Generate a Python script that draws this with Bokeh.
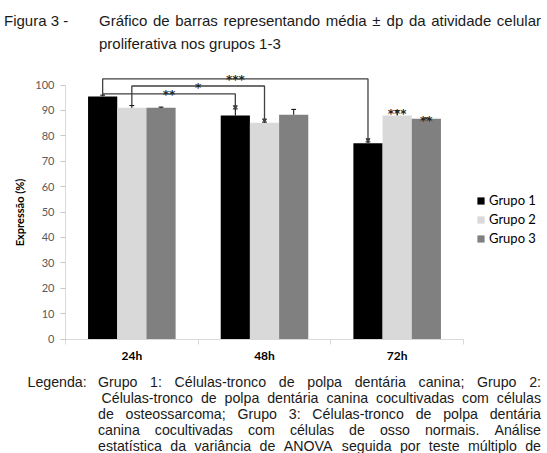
import numpy as np
from bokeh.plotting import figure
from bokeh.models import Range1d, FixedTicker, Legend, LegendItem
from bokeh.embed import file_html
from bokeh.resources import INLINE
from bokeh.core.properties import value

# ---------------- data ----------------
categories = ["24h", "48h", "72h"]
groups = ["Grupo 1", "Grupo 2", "Grupo 3"]
grupo1 = [95.5, 88.0, 77.1]
grupo2 = [91.0, 85.1, 88.0]
grupo3 = [91.0, 88.3, 86.7]
dp1 = [0.5, 2.6, 0.5]
dp2 = [0.9, 0.3, 1.9]
dp3 = [0.3, 2.1, 0.3]
y_ticks = [0, 10, 20, 30, 40, 50, 60, 70, 80, 90, 100]

# comparison brackets (category index, group index)
br_from_cat = [0, 0, 0]
br_from_grp = [0, 1, 0]
br_to_cat = [2, 1, 1]
br_to_grp = [0, 1, 0]
br_level = [102.4, 99.6, 96.5]
br_text = ["***", "*", "**"]

# significance marks over single bars
sig_cat = [2, 2]
sig_grp = [1, 2]
sig_text = ["***", "**"]

title_label = "Figura 3 -"
title_lines = ["Gráfico de barras representando média ± dp da atividade celular",
               "proliferativa nos grupos 1-3"]
caption_label = "Legenda:"
caption_lines = ["Grupo 1: Células-tronco de polpa dentária canina; Grupo 2:",
                 "Células-tronco de polpa dentária canina cocultivadas com células",
                 "de osteossarcoma; Grupo 3: Células-tronco de polpa dentária",
                 "canina cocultivadas com células de osso normais. Análise",
                 "estatística da variância de ANOVA seguida por teste múltiplo de"]

# ---------------- layout / style ----------------
W, H = 547, 453
AX_LEFT = 65.0          # pixel x of the value axis
AX_BOTTOM = 338.5       # pixel y of the category axis
PX_PER_CAT = 132.67
PX_PER_UNIT = 2.54
colors = ["#000000", "#d9d9d9", "#808080"]
bar_w = 0.22
offsets = [-0.22, 0.0, 0.22]
FONT = "Lato"
STAR_FONT = "DejaVu Sans"
TFONT = "Liberation Sans"

vals = [grupo1, grupo2, grupo3]
errs = [dp1, dp2, dp3]

x_rng = Range1d(-AX_LEFT / PX_PER_CAT, (W - AX_LEFT) / PX_PER_CAT)
y_rng = Range1d(-(H - AX_BOTTOM) / PX_PER_UNIT, AX_BOTTOM / PX_PER_UNIT)

p = figure(width=W, height=H, x_range=x_rng, y_range=y_rng,
           output_backend="svg", toolbar_location=None, min_border=0)
p.outline_line_color = None
p.xgrid.grid_line_color = None
p.ygrid.grid_line_color = None
p.background_fill_color = "white"
p.border_fill_color = "white"

def dx(px):
    return (px - AX_LEFT) / PX_PER_CAT

def dy(py):
    return (AX_BOTTOM - py) / PX_PER_UNIT

def xpos(c, g):
    return c + 0.5 + offsets[g]

legend_items = []
for g in range(3):
    xs = [xpos(c, g) for c in range(len(categories))]
    r = p.vbar(x=xs, top=vals[g], width=bar_w, fill_color=colors[g], line_color=None)
    legend_items.append(LegendItem(label=groups[g], renderers=[r]))
    tops = [v + e for v, e in zip(vals[g], errs[g])]
    p.segment(x0=xs, y0=vals[g], x1=xs, y1=tops, line_color="#000000", line_width=1)
    p.segment(x0=[x - 0.018 for x in xs], y0=tops, x1=[x + 0.018 for x in xs], y1=tops,
              line_color="#000000", line_width=1)

def bar_top(c, g):
    return vals[g][c] + errs[g][c]

br_xs, br_ys, ax, ay, lx, ly = [], [], [], [], [], []
for k in range(len(br_level)):
    xa = xpos(br_from_cat[k], br_from_grp[k])
    xb = xpos(br_to_cat[k], br_to_grp[k])
    ya = bar_top(br_from_cat[k], br_from_grp[k])
    yb = bar_top(br_to_cat[k], br_to_grp[k])
    br_xs.append([xa, xa, xb, xb])
    br_ys.append([ya, br_level[k], br_level[k], yb + 0.8])
    ax.append(xb)
    ay.append(yb + 0.8)
    lx.append((xa + xb) / 2)
    ly.append(br_level[k] - 0.6)
p.multi_line(xs=br_xs, ys=br_ys, line_color="#404040", line_width=1.3)
p.scatter(x=ax, y=ay, marker="inverted_triangle", size=4, fill_color="#404040",
          line_color="#404040")
p.text(x=lx, y=ly, text=br_text, text_align="center", text_baseline="alphabetic",
       text_font=value(STAR_FONT), text_font_style="bold", text_font_size="12px",
       text_color="#262626")

sx = [xpos(c, g) for c, g in zip(sig_cat, sig_grp)]
sy = [bar_top(c, g) - 1.3 for c, g in zip(sig_cat, sig_grp)]
p.text(x=sx, y=sy, text=sig_text, text_align="center", text_baseline="alphabetic",
       text_font=value(STAR_FONT), text_font_style="bold", text_font_size="12px",
       text_color="#262626")

# axes, drawn at fixed positions inside the full-canvas frame
xa_ = p.xaxis[0]
xa_.fixed_location = 0
xa_.bounds = (0, len(categories))
xa_.ticker = FixedTicker(ticks=[i + 0.5 for i in range(len(categories))],
                         minor_ticks=list(range(len(categories) + 1)))
xa_.major_label_overrides = {i + 0.5: c for i, c in enumerate(categories)}
xa_.major_tick_out = 0
xa_.major_tick_in = 0
xa_.minor_tick_out = 5
xa_.minor_tick_in = 0
xa_.minor_tick_line_color = "#d9d9d9"
xa_.axis_line_color = "#d9d9d9"
xa_.major_label_text_font = FONT
xa_.major_label_text_font_style = "bold"
xa_.major_label_text_font_size = "12px"
xa_.major_label_text_color = "#000000"
xa_.major_label_standoff = 4

ya_ = p.yaxis[0]
ya_.fixed_location = 0
ya_.ticker = FixedTicker(ticks=y_ticks, minor_ticks=[])
ya_.bounds = (0, 100)
ya_.major_tick_out = 5
ya_.major_tick_in = 0
ya_.major_tick_line_color = "#c8c8c8"
ya_.axis_line_color = "#d9d9d9"
ya_.major_label_text_font = FONT
ya_.major_label_text_font_size = "11px"
ya_.major_label_text_color = "#595959"
ya_.major_label_standoff = 6
ya_.axis_label = "Expressão (%)"
ya_.axis_label_text_font = FONT
ya_.axis_label_text_font_style = "bold"
ya_.axis_label_text_font_size = "11px"
ya_.axis_label_text_color = "#000000"
ya_.axis_label_standoff = 6

legend = Legend(items=legend_items, location=(476, 207), padding=0, margin=0,
                spacing=3, glyph_width=9, glyph_height=9, label_height=13,
                label_standoff=4, label_text_font=FONT, label_text_font_size="13px",
                label_text_color="#000000", border_line_color=None,
                background_fill_alpha=0)
p.add_layout(legend)

# ---------------- title and caption (justified text) ----------------
ARIAL = {" ": 278, ".": 278, ",": 278, ":": 278, ";": 278, "-": 333, "±": 584,
         "(": 333, ")": 333, "%": 889}
for ch, w in zip("abcdefghijklmnopqrstuvwxyz",
                 [556, 556, 500, 556, 556, 278, 556, 556, 222, 222, 500, 222, 833,
                  556, 556, 556, 556, 333, 500, 278, 556, 500, 722, 500, 500, 500]):
    ARIAL[ch] = w
for ch, w in zip("ABCDEFGHIJKLMNOPQRSTUVWXYZ",
                 [667, 667, 722, 722, 667, 611, 778, 722, 278, 500, 667, 556, 833,
                  722, 778, 667, 778, 722, 667, 611, 722, 667, 944, 667, 667, 611]):
    ARIAL[ch] = w
for ch in "0123456789áéúâãóêà":
    ARIAL[ch] = 556
ARIAL["í"] = 278
ARIAL["ç"] = 500

def text_width(s, size):
    return sum(ARIAL.get(c, 556) for c in s) * size / 1000.0

def place_line(line, x0, x1, size, justify):
    words = line.split()
    if not justify or len(words) == 1:
        return [x0], [line.strip()]
    widths = [text_width(w, size) for w in words]
    gap = (x1 - x0 - sum(widths)) / (len(words) - 1)
    xs, x = [], x0
    for wd in widths:
        xs.append(x)
        x += wd + gap
    return xs, words

def draw_block(label, lines, xl, x0s, x1, base0, step, size, justified):
    X, Y, T = [dx(xl)], [dy(base0)], [label]
    for i, line in enumerate(lines):
        xs, ws = place_line(line, x0s[i], x1, size, justified[i])
        for xw, w in zip(xs, ws):
            X.append(dx(xw)); Y.append(dy(base0 + i * step)); T.append(w)
    p.text(x=X, y=Y, text=T, text_font=value(TFONT), text_font_size=f"{size}px",
           text_color="#1a1a1a", text_baseline="alphabetic", text_align="left")

draw_block(title_label, title_lines, 3.5, [98.5, 98.5], 540.5, 19.5, 23.0, 15,
           [True, False])
draw_block(caption_label, caption_lines, 27.0, [97.5, 101.0, 97.5, 97.5, 97.5], 540.5,
           381.5, 16.1, 14.2, [True, True, True, True, True])

open("out.html", "w").write(file_html(p, INLINE))
